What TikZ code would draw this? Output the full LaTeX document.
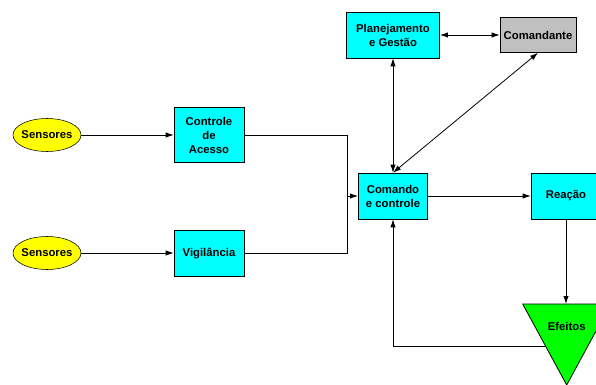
\documentclass[tikz,border=0pt]{standalone}
\usepackage{fontspec}
\setmainfont{Liberation Sans}
\usetikzlibrary{shapes.geometric,arrows.meta}
\definecolor{ciano}{RGB}{0,255,255}
\definecolor{amarelo}{RGB}{255,255,0}
\definecolor{verde}{RGB}{0,255,0}
\definecolor{cinza}{RGB}{192,192,192}

\begin{document}
\begin{tikzpicture}[x=0.75pt, y=-0.75pt,
    every node/.style={font=\fontsize{8.5}{10.5}\selectfont\bfseries, align=center, inner sep=1pt},
    caixa/.style={draw, fill=ciano, minimum width=52.5pt, minimum height=34.5pt},
    sensor/.style={draw, ellipse, fill=amarelo, inner xsep=-1.5pt, minimum width=51pt, minimum height=24.75pt},
    seta/.style={-{Latex[length=6pt, width=4pt]}, line width=0.6pt},
    dupla/.style={{Latex[length=6pt, width=4pt]}-{Latex[length=6pt, width=4pt]}, line width=0.6pt}]
    \clip (0,0) rectangle (596,385);
    \fill[white] (0,0) rectangle (596,385);

    % entradas
    \node[sensor] (sens1) at (47,135) {Sensores};
    \node[sensor] (sens2) at (47,253) {Sensores};
    \node[caixa, minimum height=41.25pt] (acesso) at (209,135) {Controle\\de\\Acesso};
    \node[caixa] (vigil) at (209,253) {Vigil\^ancia};

    % centro
    \node[caixa, minimum width=52pt] (comando) at (393,196) {Comando\\e controle};
    \node[caixa, minimum width=70pt] (plano) at (393,35) {Planejamento\\e Gest\~ao};
    \node[draw, fill=cinza, minimum width=57pt, minimum height=26.25pt] (chefe) at (538,35) {Comandante};
    \node[caixa] (reacao) at (566,196) {Rea\c{c}\~ao};

    % efeitos
    \coordinate (ef-a) at (522.7,304);
    \coordinate (ef-b) at (610.7,304);
    \coordinate (ef-c) at (566.7,385);
    \coordinate (ef-top) at (566,304);
    \coordinate (ef-left) at (545,346);
    \filldraw[fill=verde, line width=0.6pt] (ef-a) -- (ef-b) -- (ef-c) -- cycle;
    \node (efeitos) at (566.7,326) {Efeitos};

    \coordinate (juncao) at (347,196);

    \draw[seta] (sens1) -- (acesso);
    \draw[seta] (sens2) -- (vigil);
    \draw[line width=0.6pt] (acesso.east) -| (juncao);
    \draw[line width=0.6pt] (vigil.east) -| (juncao);
    \draw[seta] (juncao) -- (comando);

    \draw[dupla] (plano) -- (chefe);
    \draw[dupla] (comando.north) -- (plano.south);
    \draw[dupla] (comando.north) -- (chefe.south);

    \draw[seta] (comando) -- (reacao);
    \draw[seta] (reacao.south) -- (ef-top);
    \draw[seta] (ef-left) -| (comando.south);
\end{tikzpicture}
\end{document}
